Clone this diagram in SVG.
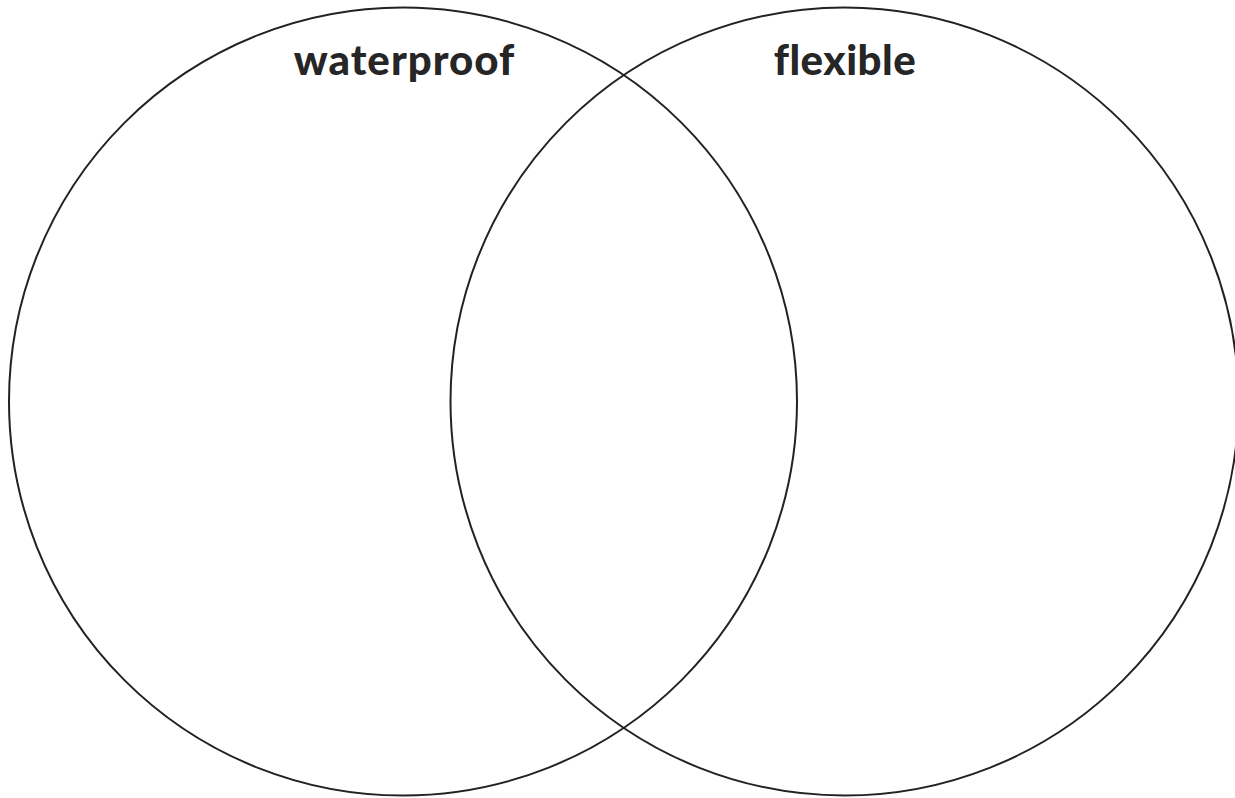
<svg xmlns="http://www.w3.org/2000/svg" width="1235" height="798" viewBox="0 0 1235 798">
<style>
.c{fill:none;stroke:#222;stroke-width:2}
.t{font-family:Lato,"Open Sans",sans-serif;font-weight:900;font-size:42px;fill:#262626}
</style>
<rect width="1235" height="798" fill="#fff"/>
<g id="set-waterproof">
<circle class="c" cx="403" cy="401.5" r="394"/>
<text class="t" x="404.5" y="75" text-anchor="middle" letter-spacing="1">waterproof</text>
</g>
<g id="set-flexible">
<circle class="c" cx="844.5" cy="401.5" r="394"/>
<text class="t" x="845" y="75" text-anchor="middle" letter-spacing="0.5">flexible</text>
</g>
</svg>
